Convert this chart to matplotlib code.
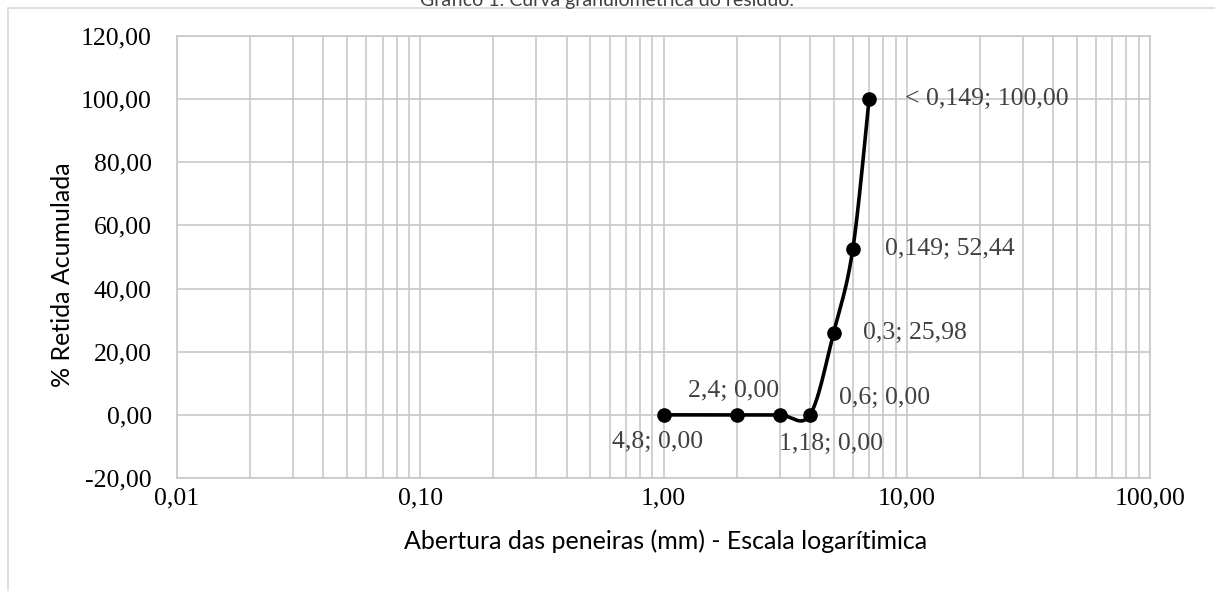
import numpy as np
import matplotlib
matplotlib.use("Agg")
import matplotlib.pyplot as plt
from matplotlib.ticker import FixedLocator, LogLocator, NullFormatter
from matplotlib.patches import Rectangle

# dados da curva granulometrica
peneiras = ["4,8", "2,4", "1,18", "0,6", "0,3", "0,149", "< 0,149"]
x_pos = [1, 2, 3, 4, 5, 6, 7]
retida = [0.00, 0.00, 0.00, 0.00, 25.98, 52.44, 100.00]
y_ticks = [-20, 0, 20, 40, 60, 80, 100, 120]
x_ticks = [0.01, 0.1, 1, 10, 100]

# posicao dos rotulos (pixels relativos ao ponto)
label_pos = [(-6, -27, "center"), (-3, 24, "center"), (-1, -29, "left"),
             (29, 17, "left"), (29, 0, "left"), (32, 0, "left"), (36, 0, "left")]

SERIF = "Liberation Serif"
SANS = "Lato"
GRID = "#c8c8c8"


def br(v, nd=2):
    return f"{v:.{nd}f}".replace(".", ",")


def smooth(xs, ys, n=40):
    # curva suavizada tipo Excel (Catmull-Rom em espaco de tela)
    u = np.log10(np.asarray(xs, float)) * 243.0
    v = np.asarray(ys, float) * 3.15
    P = np.column_stack([u, v])
    P = np.vstack([P[0], P, P[-1]])
    out = []
    for i in range(1, len(P) - 2):
        p0, p1, p2, p3 = P[i - 1], P[i], P[i + 1], P[i + 2]
        t = np.linspace(0, 1, n)[:, None]
        c = 0.5 * ((2 * p1) + (-p0 + p2) * t + (2 * p0 - 5 * p1 + 4 * p2 - p3) * t ** 2
                   + (-p0 + 3 * p1 - 3 * p2 + p3) * t ** 3)
        out.append(c)
    c = np.vstack(out)
    return 10 ** (c[:, 0] / 243.0), c[:, 1] / 3.15


fig = plt.figure(figsize=(12.15, 5.91), dpi=100)
ax = fig.add_axes([177 / 1215, 1 - 478 / 591, (1150 - 177) / 1215, (478 - 36) / 591])

# moldura do grafico
fig.patches.append(Rectangle((8 / 1215, -0.1), 1.2, 1 - 8 / 591 + 0.1, transform=fig.transFigure,
                             fill=False, edgecolor="#d9d9d9", linewidth=1.2))
fig.text(0.5, 1 - 6 / 591, "Gráfico 1: Curva granulométrica do resíduo.", ha="center",
         va="baseline", fontsize=14, family=SANS, color="#404040")

ax.set_xscale("log")
ax.set_xlim(0.01, 100)
ax.set_ylim(-20, 120)
ax.xaxis.set_major_locator(FixedLocator(x_ticks))
ax.xaxis.set_minor_locator(LogLocator(base=10, subs=np.arange(2, 10)))
ax.xaxis.set_minor_formatter(NullFormatter())
ax.yaxis.set_major_locator(FixedLocator(y_ticks))
ax.grid(True, which="both", axis="x", color=GRID, linewidth=1.2)
ax.grid(True, which="major", axis="y", color=GRID, linewidth=1.2)
ax.set_axisbelow(True)
for s in ax.spines.values():
    s.set_color(GRID)
    s.set_linewidth(1.2)
ax.tick_params(which="both", length=0)
ax.tick_params(axis="y", pad=18)
ax.tick_params(axis="x", pad=7)
ax.set_xticklabels([br(v, 2) for v in x_ticks], family=SERIF, fontsize=18.5)
ax.set_yticklabels([br(v, 2) for v in y_ticks], family=SERIF, fontsize=18.5)

xs, ys = smooth(x_pos, retida)
ax.plot(xs, ys, color="black", linewidth=2.6, solid_capstyle="round", zorder=3)
ax.plot(x_pos, retida, "o", color="black", markersize=9.5, zorder=4)

for x, y, nome, (dx, dy, ha) in zip(x_pos, retida, peneiras, label_pos):
    ax.annotate(f"{nome}; {br(y)}", (x, y), xytext=(dx, dy), textcoords="offset pixels",
                ha=ha, va="center", family=SERIF, fontsize=18.5, color="#404040")

fig.text(62 / 1215, 1 - 275 / 591, "% Retida Acumulada", rotation=90, ha="center", va="center",
         family=SANS, fontsize=18, color="black")
fig.text(666 / 1215, 1 - 541 / 591, "Abertura das peneiras (mm) - Escala logarítimica", ha="center",
         va="center", family=SANS, fontsize=18, color="black")

fig.savefig("out.png", dpi=100)
